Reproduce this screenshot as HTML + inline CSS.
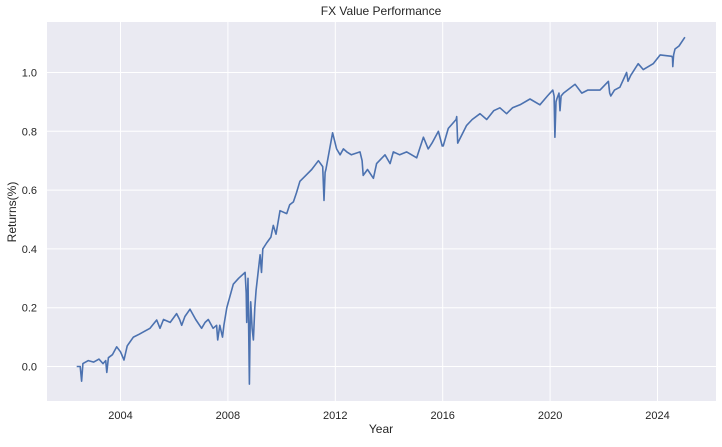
<!DOCTYPE html>
<html><head><meta charset="utf-8"><style>
body{margin:0;background:#fff;}
svg text{font-family:"Liberation Sans",sans-serif;fill:#262626;}
</style></head><body>
<svg id="chart" width="722" height="442" xmlns="http://www.w3.org/2000/svg">
<rect x="47" y="22" width="669" height="379" fill="#eaeaf2"/>
<g id="grid"></g>
<g id="ticks"></g>
<path id="line" fill="none" stroke="#4c72b0" stroke-width="1.6" stroke-linejoin="round"/>
<text x="381" y="15" text-anchor="middle" font-size="12">FX Value Performance</text>
<text x="381" y="433" text-anchor="middle" font-size="12">Year</text>
<text x="16" y="212" text-anchor="middle" font-size="12" transform="rotate(-90 16 212)">Returns(%)</text>
</svg>
<script>
const xTicks=[2004,2008,2012,2016,2020,2024];
const yTicks=[0.0,0.2,0.4,0.6,0.8,1.0];
const yTickLabels=["0.0","0.2","0.4","0.6","0.8","1.0"];
const years=[2002.37,2002.5,2002.55,2002.6,2002.8,2003.0,2003.2,2003.35,2003.45,2003.49,2003.55,2003.7,2003.86,2004.0,2004.13,2004.25,2004.48,2004.7,2004.9,2005.1,2005.35,2005.47,2005.6,2005.85,2006.09,2006.2,2006.28,2006.4,2006.59,2006.8,2007.02,2007.15,2007.27,2007.45,2007.58,2007.62,2007.7,2007.8,2007.85,2007.96,2008.2,2008.4,2008.64,2008.68,2008.7,2008.75,2008.8,2008.83,2008.85,2008.9,2008.95,2009.0,2009.05,2009.2,2009.25,2009.3,2009.44,2009.6,2009.69,2009.79,2009.94,2010.19,2010.3,2010.44,2010.55,2010.68,2010.9,2011.12,2011.37,2011.53,2011.58,2011.62,2011.65,2011.9,2012.05,2012.18,2012.3,2012.43,2012.6,2012.92,2013.0,2013.04,2013.2,2013.42,2013.54,2013.85,2014.04,2014.16,2014.4,2014.66,2015.03,2015.28,2015.46,2015.6,2015.84,2015.98,2016.02,2016.21,2016.5,2016.52,2016.56,2016.89,2017.1,2017.39,2017.64,2017.9,2018.13,2018.38,2018.6,2018.88,2019.25,2019.62,2019.9,2020.1,2020.15,2020.18,2020.22,2020.25,2020.33,2020.37,2020.41,2020.5,2020.93,2021.18,2021.4,2021.61,2021.86,2022.17,2022.22,2022.26,2022.4,2022.6,2022.85,2022.9,2023.0,2023.28,2023.47,2023.84,2024.1,2024.53,2024.56,2024.57,2024.6,2024.65,2024.8,2025.02];
const values=[0.0,0.0,-0.05,0.01,0.02,0.015,0.025,0.01,0.02,-0.02,0.03,0.04,0.067,0.05,0.022,0.07,0.10,0.11,0.12,0.13,0.158,0.13,0.16,0.15,0.18,0.16,0.14,0.17,0.195,0.16,0.13,0.15,0.16,0.13,0.14,0.09,0.14,0.10,0.14,0.20,0.28,0.30,0.32,0.25,0.15,0.30,-0.06,0.15,0.22,0.13,0.09,0.20,0.26,0.38,0.32,0.40,0.42,0.44,0.48,0.45,0.53,0.52,0.55,0.56,0.59,0.63,0.65,0.67,0.70,0.68,0.565,0.66,0.67,0.795,0.74,0.72,0.74,0.73,0.72,0.73,0.70,0.65,0.67,0.64,0.69,0.72,0.69,0.73,0.72,0.73,0.71,0.78,0.74,0.76,0.80,0.75,0.75,0.81,0.84,0.85,0.76,0.82,0.84,0.86,0.84,0.87,0.88,0.86,0.88,0.89,0.91,0.89,0.92,0.94,0.92,0.78,0.90,0.91,0.93,0.87,0.92,0.93,0.96,0.93,0.94,0.94,0.94,0.97,0.93,0.92,0.94,0.95,1.00,0.97,0.99,1.03,1.01,1.03,1.06,1.055,1.05,1.02,1.06,1.08,1.09,1.12];
const X=y=>120.5+(y-2004)*26.85;
const Y=v=>366.5-v*294;
const ns="http://www.w3.org/2000/svg";
const grid=document.getElementById('grid'),ticks=document.getElementById('ticks');
xTicks.forEach(t=>{
  const l=document.createElementNS(ns,'line');
  l.setAttribute('x1',X(t));l.setAttribute('x2',X(t));l.setAttribute('y1',22);l.setAttribute('y2',401);
  l.setAttribute('stroke','#fff');l.setAttribute('stroke-width','1');
  
  
  grid.appendChild(l);
  const tx=document.createElementNS(ns,'text');
  tx.setAttribute('x',X(t));tx.setAttribute('y',419);tx.setAttribute('text-anchor','middle');tx.setAttribute('font-size','11');
  tx.textContent=t;
  
  
  ticks.appendChild(tx);
});
yTicks.forEach((t,i)=>{
  const l=document.createElementNS(ns,'line');
  l.setAttribute('x1',47);l.setAttribute('x2',716);l.setAttribute('y1',Y(t));l.setAttribute('y2',Y(t));
  l.setAttribute('stroke','#fff');l.setAttribute('stroke-width','1');
  
  
  grid.appendChild(l);
  const tx=document.createElementNS(ns,'text');
  tx.setAttribute('x',37);tx.setAttribute('y',Y(t)+4);tx.setAttribute('text-anchor','end');tx.setAttribute('font-size','11');
  tx.textContent=yTickLabels[i];
  
  
  ticks.appendChild(tx);
});
document.getElementById('line').setAttribute('d',years.map((y,i)=>(i?'L':'M')+X(y).toFixed(1)+' '+Y(values[i]).toFixed(1)).join(''));
</script>
</body></html>
